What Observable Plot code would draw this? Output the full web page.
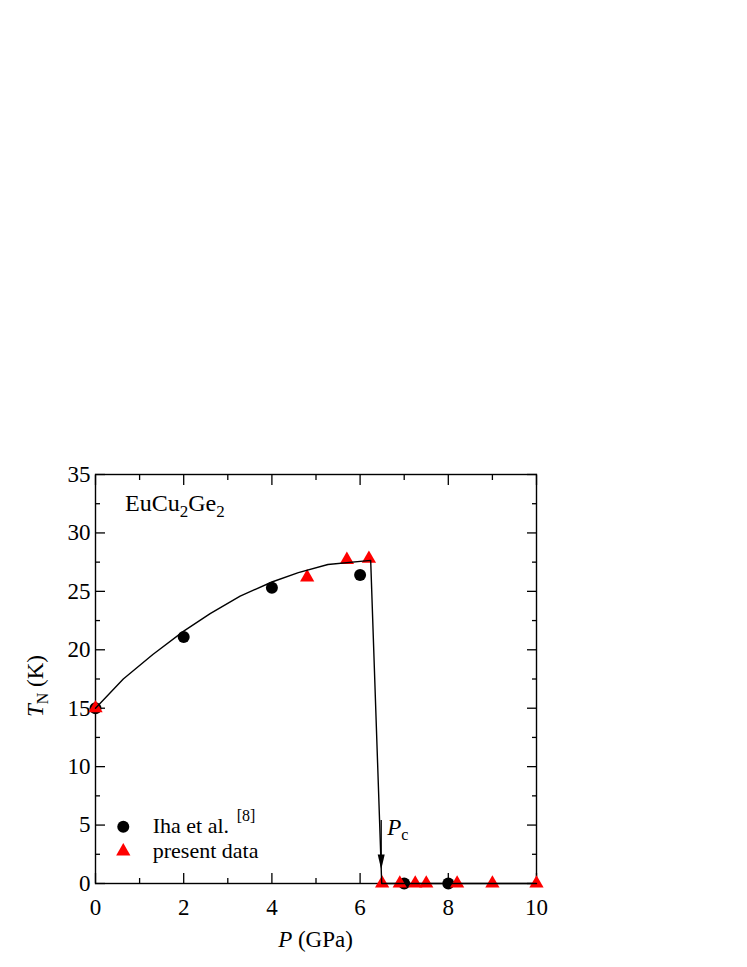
<!DOCTYPE html>
<html>
<head>
<meta charset="utf-8">
<script src="https://cdn.jsdelivr.net/npm/d3@7"></script>
<script src="https://cdn.jsdelivr.net/npm/@observablehq/plot@0.6"></script>
<style>
  html, body { margin: 0; padding: 0; background: #fff; }
  #chart { width: 747px; height: 967px; }
  svg text { font-family: "Liberation Serif", "Times New Roman", serif; }
</style>
</head>
<body>
<div id="chart"></div>
<script>
// ---- Data ----
const ihaP = [0, 2, 4, 6, 7, 8];
const ihaT = [15, 21.1, 25.3, 26.4, 0, 0];

const presentP = [0, 4.8, 5.7, 6.2, 6.5, 6.9, 7.25, 7.5, 8.2, 9, 10];
const presentT = [15, 26.2, 27.7, 27.8, 0, 0, 0, 0, 0, 0, 0];

const curveP = [0, 0.63, 1.3, 2, 2.6, 3.28, 4, 4.6, 5.27, 6.24, 6.49, 10];
const curveT = [15, 17.5, 19.6, 21.6, 23.1, 24.6, 25.8, 26.6, 27.3, 27.65, 0, 0];

const xMajor = [0, 2, 4, 6, 8, 10];
const xMinor = [1, 3, 5, 7, 9];
const yMajor = [0, 5, 10, 15, 20, 25, 30, 35];
const yMinor = [2.5, 7.5, 12.5, 17.5, 22.5, 27.5, 32.5];

const legendLabels = ["Iha et al.", "present data"];
const legendRef = "[8]";
const compound = ["EuCu", "2", "Ge", "2"];
const pcLabel = ["P", "c"];
const pcP = 6.49;

const iha = ihaP.map((p, i) => ({p, t: ihaT[i]}));
const present = presentP.map((p, i) => ({p, t: presentT[i]}));
const curve = curveP.map((p, i) => ({p, t: curveT[i]}));

const W = 747, H = 967;
const ML = 95, MR = 211, MT = 474, MB = 84;
const FONT = "Liberation Serif";

const legendRows = [
  {p: 0.63, t: 4.85, kind: "circle", label: legendLabels[0]},
  {p: 0.63, t: 2.75, kind: "triangle", label: legendLabels[1]}
];

const plot = Plot.plot({
  width: W,
  height: H,
  marginLeft: ML,
  marginRight: MR,
  marginTop: MT,
  marginBottom: MB,
  style: {fontFamily: FONT, fontSize: "23px", color: "#000", background: "#fff"},
  x: {domain: [0, 10], label: null},
  y: {domain: [0, 35], label: null},
  marks: [
    // tick marks (inward) on all four sides
    Plot.axisX(xMajor, {anchor: "bottom", tickSize: -10, tickFormat: () => "", label: null, strokeWidth: 1.3}),
    Plot.axisX(xMinor, {anchor: "bottom", tickSize: -5, tickFormat: () => "", label: null, strokeWidth: 1.3}),
    Plot.axisX(xMajor, {anchor: "top", tickSize: -10, tickFormat: () => "", label: null, strokeWidth: 1.3}),
    Plot.axisX(xMinor, {anchor: "top", tickSize: -5, tickFormat: () => "", label: null, strokeWidth: 1.3}),
    Plot.axisY(yMajor, {anchor: "left", tickSize: -10, tickFormat: () => "", label: null, strokeWidth: 1.3}),
    Plot.axisY(yMinor, {anchor: "left", tickSize: -5, tickFormat: () => "", label: null, strokeWidth: 1.3}),
    Plot.axisY(yMajor, {anchor: "right", tickSize: -10, tickFormat: () => "", label: null, strokeWidth: 1.3}),
    Plot.axisY(yMinor, {anchor: "right", tickSize: -5, tickFormat: () => "", label: null, strokeWidth: 1.3}),
    // tick labels
    Plot.axisX(xMajor, {anchor: "bottom", tickSize: 0, tickPadding: 15, label: null, fontSize: 23}),
    Plot.axisY(yMajor, {anchor: "left", tickSize: 0, tickPadding: 5, label: null, fontSize: 23}),
    Plot.frame({stroke: "#000", strokeWidth: 1.4}),
    // data
    Plot.dot(iha, {x: "p", y: "t", r: 6, fill: "#000", stroke: null}),
    Plot.dot(present, {x: "p", y: "t", symbol: "triangle", r: 5.3, fill: "#ff0000", stroke: null}),
    Plot.line(curve, {x: "p", y: "t", stroke: "#000", strokeWidth: 1.4}),
    // legend symbols
    Plot.dot(legendRows.filter(d => d.kind === "circle"), {x: "p", y: "t", r: 6, fill: "#000"}),
    Plot.dot(legendRows.filter(d => d.kind === "triangle"), {x: "p", y: "t", symbol: "triangle", r: 5.3, fill: "#ff0000"})
  ]
});

document.getElementById("chart").appendChild(plot);

// ---- Rich text annotations (italic, subscripts) ----
const xScale = plot.scale("x"), yScale = plot.scale("y");
const sx = v => xScale.apply(v), sy = v => yScale.apply(v);
const svg = d3.select(plot);
const g = svg.append("g").attr("font-family", FONT).attr("fill", "#000").attr("text-anchor", "start");

// compound name
{
  const t = g.append("text").attr("text-anchor", "start").attr("x", sx(0.68)).attr("y", sy(31.8)).attr("font-size", 24);
  t.append("tspan").text(compound[0]);
  t.append("tspan").attr("dy", 6).attr("font-size", 17).text(compound[1]);
  t.append("tspan").attr("dy", -6).text(compound[2]);
  t.append("tspan").attr("dy", 6).attr("font-size", 17).text(compound[3]);
}

// legend texts
{
  const t1 = g.append("text").attr("text-anchor", "start").attr("x", sx(1.31)).attr("y", sy(legendRows[0].t) + 7).attr("font-size", 22);
  t1.append("tspan").text(legendRows[0].label + " ");
  t1.append("tspan").attr("dx", 2).attr("dy", -12).attr("font-size", 16).text(legendRef);
  g.append("text").attr("text-anchor", "start").attr("x", sx(1.31)).attr("y", sy(legendRows[1].t) + 7).attr("font-size", 22).text(legendRows[1].label);
}

// Pc label and arrow
{
  const t = g.append("text").attr("text-anchor", "start").attr("x", sx(pcP) + 6).attr("y", sy(4.15)).attr("font-size", 23);
  t.append("tspan").attr("font-style", "italic").text(pcLabel[0]);
  t.append("tspan").attr("dy", 5).attr("font-size", 16).text(pcLabel[1]);
  const ax = sx(pcP), ay1 = sy(5.4), ay2 = sy(1.15);
  g.append("line").attr("x1", ax).attr("x2", ax).attr("y1", ay1).attr("y2", ay2 - 4)
    .attr("stroke", "#000").attr("stroke-width", 1.3);
  g.append("path").attr("d", `M${ax - 3.5},${ay2 - 15} L${ax + 3.5},${ay2 - 15} L${ax},${ay2} Z`).attr("fill", "#000");
}

// axis titles
{
  const xl = g.append("text").attr("x", (ML + (W - MR)) / 2).attr("y", 947)
    .attr("text-anchor", "middle").attr("font-size", 23);
  xl.append("tspan").attr("font-style", "italic").text("P");
  xl.append("tspan").text(" (GPa)");

  const yl = g.append("text").attr("transform", `translate(43,686) rotate(-90)`)
    .attr("text-anchor", "middle").attr("font-size", 23);
  yl.append("tspan").attr("font-style", "italic").text("T");
  yl.append("tspan").attr("dy", 5).attr("font-size", 16).text("N");
  yl.append("tspan").attr("dy", -5).text(" (K)");
}
</script>
</body>
</html>
